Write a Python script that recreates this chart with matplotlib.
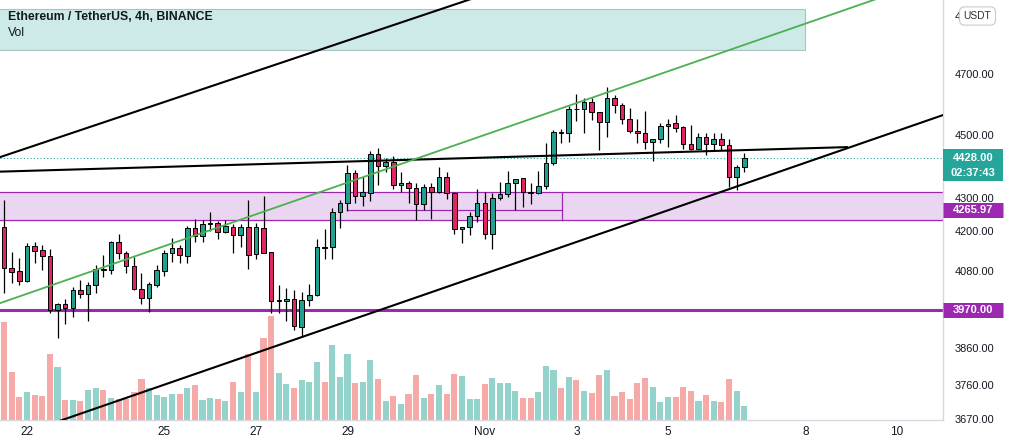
import numpy as np
import pandas as pd
import matplotlib
matplotlib.use('Agg')
import matplotlib.pyplot as plt
from matplotlib.patches import Rectangle
from matplotlib.ticker import NullLocator
from matplotlib.transforms import offset_copy, blended_transform_factory

plt.rcParams['font.family'] = ['Liberation Sans', 'DejaVu Sans']

# ETHUSDT 4h candles, first bar 2021-10-21 12:00
start = '2021-10-21 12:00'
opens = [4213, 4091, 4083, 4055, 4157, 4144, 4127, 3970, 3987, 3975,
         4028, 4015, 4041, 4089, 4086, 4169, 4135, 4097, 4030, 4004,
         4041, 4084, 4135, 4150, 4128, 4210, 4187, 4222, 4225, 4200,
         4215, 4190, 4213, 4133, 4210, 4138, 3996, 3996, 4002, 3923,
         3999, 4013, 4154, 4153, 4259, 4286, 4382, 4309, 4319, 4441,
         4403, 4416, 4342, 4348, 4333, 4283, 4336, 4322, 4369, 4319,
         4207, 4215, 4248, 4286, 4192, 4302, 4314, 4348, 4364, 4321,
         4317, 4340, 4411, 4511, 4507, 4588, 4587, 4609, 4576, 4543,
         4622, 4600, 4553, 4515, 4507, 4478, 4489, 4531, 4540, 4527,
         4472, 4458, 4494, 4472, 4489, 4470, 4369, 4400]
highs = [4297, 4140, 4121, 4167, 4169, 4159, 4147, 3990, 4002, 4036,
         4057, 4050, 4101, 4130, 4172, 4192, 4142, 4125, 4078, 4052,
         4101, 4145, 4180, 4160, 4217, 4238, 4235, 4259, 4232, 4235,
         4222, 4223, 4297, 4227, 4309, 4140, 4042, 4033, 4028, 4023,
         4044, 4177, 4207, 4271, 4297, 4406, 4390, 4367, 4451, 4459,
         4427, 4435, 4383, 4356, 4348, 4346, 4348, 4399, 4383, 4320,
         4215, 4259, 4330, 4322, 4319, 4353, 4387, 4362, 4365, 4348,
         4387, 4475, 4518, 4520, 4597, 4635, 4622, 4622, 4578, 4661,
         4633, 4606, 4589, 4554, 4579, 4489, 4542, 4554, 4567, 4531,
         4534, 4507, 4507, 4507, 4507, 4489, 4406, 4443]
lows = [4018, 4047, 4042, 4052, 4106, 4086, 3963, 3891, 3931, 3950,
        4004, 3940, 4020, 4067, 4074, 4118, 4078, 4028, 3987, 3964,
        4036, 4069, 4111, 4108, 4108, 4170, 4170, 4203, 4177, 4195,
        4135, 4155, 4088, 4118, 4135, 3961, 3963, 3940, 3914, 3895,
        3982, 4011, 4118, 4118, 4210, 4263, 4288, 4278, 4294, 4343,
        4385, 4330, 4321, 4288, 4235, 4266, 4237, 4317, 4299, 4192,
        4165, 4190, 4230, 4177, 4148, 4297, 4306, 4266, 4276, 4283,
        4314, 4330, 4406, 4475, 4478, 4547, 4507, 4551, 4454, 4496,
        4573, 4537, 4508, 4475, 4456, 4419, 4477, 4464, 4513, 4458,
        4454, 4456, 4438, 4454, 4454, 4338, 4328, 4383]
closes = [4091, 4081, 4055, 4157, 4143, 4127, 3970, 3987, 3975, 4028,
          4015, 4041, 4088, 4087, 4170, 4135, 4098, 4030, 4004, 4044,
          4086, 4135, 4150, 4130, 4210, 4187, 4223, 4225, 4200, 4217,
          4190, 4215, 4130, 4213, 4137, 3996, 3998, 4002, 3925, 3999,
          4013, 4153, 4152, 4259, 4286, 4380, 4309, 4320, 4441, 4403,
          4416, 4342, 4348, 4333, 4283, 4336, 4322, 4369, 4317, 4207,
          4215, 4248, 4286, 4192, 4302, 4314, 4348, 4361, 4320, 4319,
          4340, 4411, 4510, 4509, 4587, 4586, 4609, 4576, 4543, 4622,
          4600, 4553, 4514, 4507, 4478, 4489, 4531, 4539, 4526, 4472,
          4458, 4494, 4472, 4489, 4470, 4369, 4400, 4428]
volume = [98, 48, 23, 28, 25, 24, 66, 53, 20, 20,
          19, 30, 32, 30, 22, 21, 21, 28, 41, 32,
          25, 23, 26, 26, 32, 35, 20, 22, 21, 19,
          38, 28, 66, 28, 82, 104, 47, 36, 32, 40,
          38, 58, 38, 75, 43, 66, 37, 38, 60, 41,
          19, 24, 16, 26, 45, 22, 26, 35, 26, 46,
          44, 21, 21, 36, 42, 37, 37, 29, 22, 22,
          28, 54, 50, 32, 43, 40, 29, 27, 45, 50,
          24, 28, 21, 37, 42, 33, 18, 23, 23, 33,
          29, 19, 25, 19, 18, 41, 29, 14]

tick_dates = ['2021-10-22', '2021-10-25', '2021-10-27', '2021-10-29', '2021-11-01',
              '2021-11-03', '2021-11-05', '2021-11-08', '2021-11-10']
tick_labels = ['22', '25', '27', '29', 'Nov', '3', '5', '8', '10']

price_ticks = [4900, 4700, 4500, 4300, 4200, 4080, 3860, 3760, 3670]
last_price = 4428.00
countdown = '02:37:43'
zone_price = 4265.97
support = 3970.00

# drawings, x in bars from Oct 22 00:00
channel_upper = ([-5, 60], [4419, 4980])
flat_line = ([-5, 107.6], [4384, 4463])
green_line = ([-5, 112], [3979, 4970])
channel_lower = ([0, 121], [3637, 4575])
target_box = (-10, 102, 4785, 4927)
zone_box = (-10, 130, 4235, 4321)
zone_inner = (42.1, 70.1)

UP = '#22a08f'
DOWN = '#de2660'
VOL_UP = '#94d3cc'
VOL_DOWN = '#f5aaa8'
PURPLE = '#9c27b0'
TEXT = '#131722'

t0 = pd.Timestamp('2021-10-22 00:00')
bar = pd.Timedelta('4h')
times = pd.date_range(start, periods=len(opens), freq='4h')
x = np.asarray((times - t0) / bar, dtype=float)
o = np.array(opens, float)
h = np.array(highs, float)
l = np.array(lows, float)
c = np.array(closes, float)
up = c >= o

W, H = 1009, 447
fig = plt.figure(figsize=(W / 100, H / 100), dpi=100)
rect = [0, (H - 420) / H, 943 / W, 420 / H]
vax = fig.add_axes(rect, zorder=1)
ax = fig.add_axes(rect, zorder=2)
ax.patch.set_visible(False)

xmin, xmax = -3.54, 120.05
ylo, yhi = 3669, 4960

# volume
vax.bar(x, volume, width=0.8, color=np.where(up, VOL_UP, VOL_DOWN), linewidth=0)
vax.set_xlim(xmin, xmax)
vax.set_ylim(0, 420)
vax.axis('off')

ax.set_yscale('log')
ax.set_xlim(xmin, xmax)
ax.set_ylim(ylo, yhi)
ax.yaxis.set_major_locator(NullLocator())
ax.yaxis.set_minor_locator(NullLocator())

# zones
bx0, bx1, by0, by1 = target_box
ax.add_patch(Rectangle((bx0, by0), bx1 - bx0, by1 - by0, facecolor='#cdeae8',
                       edgecolor='#aac2c0', lw=0.8, zorder=1))
zx0, zx1, zy0, zy1 = zone_box
ax.add_patch(Rectangle((zx0, zy0), zx1 - zx0, zy1 - zy0, facecolor='#ead6f1',
                       edgecolor=PURPLE, lw=0.9, zorder=1))
ax.plot(zone_inner, [zone_price, zone_price], color=PURPLE, lw=0.9, zorder=1.2)
ax.plot([zone_inner[1]] * 2, [zy0, zy1], color=PURPLE, lw=0.9, zorder=1.2)
ax.axhline(support, color=PURPLE, lw=2.2, zorder=1.3)
ax.axhline(last_price, color='#26a69a', lw=0.8, ls=(0, (1, 2)), zorder=1.3)

# candles
ax.vlines(x, l, h, color='black', lw=0.9, zorder=3)
ax.bar(x, c - o, bottom=o, width=0.6, color=np.where(up, UP, DOWN),
       edgecolor='black', linewidth=0.7, zorder=4)

# trend lines
for (lx, ly), col, lw in [(channel_upper, 'black', 1.5), (flat_line, 'black', 1.5),
                          (green_line, '#4caf50', 1.3), (channel_lower, 'black', 1.5)]:
    ax.plot(lx, ly, color=col, lw=lw, solid_capstyle='butt', zorder=5)

for side in ['top', 'left']:
    ax.spines[side].set_visible(False)
for side in ['right', 'bottom']:
    ax.spines[side].set_color('#d6d8de')
    ax.spines[side].set_linewidth(1)

tick_x = [(pd.Timestamp(d) - t0) / bar for d in tick_dates]
ax.set_xticks(tick_x)
ax.set_xticklabels(tick_labels, fontsize=8.5, color=TEXT)
ax.tick_params(axis='x', length=0, pad=4.5)
ax.xaxis.set_minor_locator(NullLocator())

fig.text(8 / W, 1 - 17 / H, 'Ethereum / TetherUS, 4h, BINANCE', fontsize=8.8,
         fontweight='bold', color=TEXT, va='center', ha='left', zorder=10)
fig.text(8 / W, 1 - 33.5 / H, 'Vol', fontsize=8.8, color=TEXT, va='center', ha='left', zorder=10)

# price scale
pax = fig.add_axes([943 / W, (H - 423) / H, 66 / W, 423 / H], zorder=3)
pax.set_yscale('log')
pax.set_xlim(0, 66)
lo_ext = np.exp(np.log(yhi) - (np.log(yhi) - np.log(ylo)) * 423 / 420)
pax.set_ylim(lo_ext, yhi)
pax.axis('off')

for p in price_ticks:
    pax.text(12, p, f'{p:.2f}', fontsize=7.9, color=TEXT, ha='left', va='center', clip_on=True)


def axis_label(price, lines, color, height, shift=0):
    tr = offset_copy(pax.transData, fig=fig, x=0, y=shift, units='dots')
    pax.plot([0, 60], [price, price], color=color, lw=height * 0.72,
             solid_capstyle='butt', transform=tr, zorder=4)
    for k, s in enumerate(lines):
        tt = offset_copy(pax.transData, fig=fig, x=0, y=-14.5 * k, units='dots')
        pax.text(30, price, s, transform=tt, fontsize=8, fontweight='bold',
                 color='white', ha='center', va='center', zorder=5)


axis_label(last_price, [f'{last_price:.2f}', countdown], '#26a69a', 32, shift=-7)
axis_label(zone_price, [f'{zone_price:.2f}'], PURPLE, 15)
axis_label(support, [f'{support:.2f}'], PURPLE, 15)

ut = blended_transform_factory(pax.transData, pax.transAxes)
pax.text(34.5, 1 - 16 / 423, 'USDT', transform=ut, fontsize=7.4, color='#333333',
         ha='center', va='center', zorder=6,
         bbox=dict(boxstyle='round,pad=0.4,rounding_size=0.5', fc='white', ec='#c9cbd1', lw=0.8))

fig.savefig('out.png', dpi=100, facecolor='white')
